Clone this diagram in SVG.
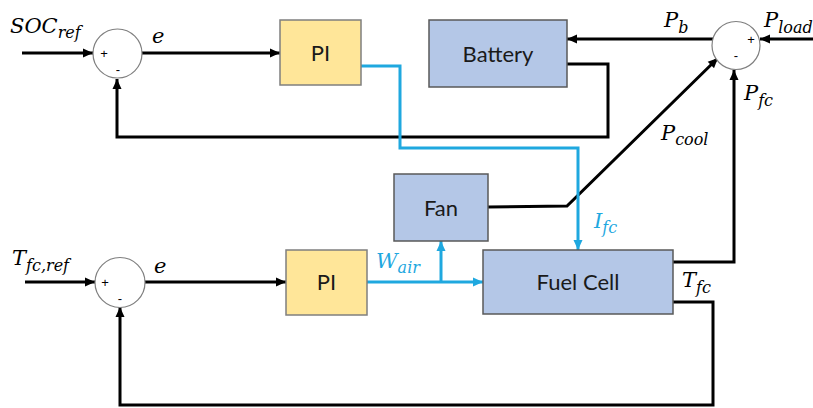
<svg xmlns="http://www.w3.org/2000/svg" width="813" height="408" viewBox="0 0 813 408">
<defs>
<marker id="ab" markerUnits="userSpaceOnUse" markerWidth="11" markerHeight="10" refX="10" refY="5" orient="auto"><path d="M0,0.5 L10,5 L0,9.5 z" fill="#000"/></marker>
<marker id="aq" markerUnits="userSpaceOnUse" markerWidth="11" markerHeight="10" refX="10" refY="5" orient="auto"><path d="M0,0.5 L10,5 L0,9.5 z" fill="#1FA8DF"/></marker>
<style>
.blk{fill:none;stroke:#000;stroke-width:3;stroke-linejoin:miter}
.blu{fill:none;stroke:#1FA8DF;stroke-width:3;stroke-linejoin:miter}
.pi{fill:#FFE699;stroke:#7F7F7F;stroke-width:1.5}
.bx{fill:#B4C7E7;stroke:#595959;stroke-width:1.5}
.sum{fill:#fff;stroke:#7F7F7F;stroke-width:1.2}
.lbl{font-family:Lato,"Liberation Sans",sans-serif;font-size:22px;fill:#1a1a1a;text-anchor:middle}
.sg{font-family:"Liberation Sans",sans-serif;font-size:13px;fill:#000;text-anchor:middle}
.m{font-family:"DejaVu Serif",serif;font-style:italic;font-size:21px;fill:#000}
.mb{fill:#1FA8DF}
.s{font-size:16px}
</style>
</defs>
<g id="connectors">
<path class="blk" d="M22,53 L93,53" marker-end="url(#ab)"/>
<path class="blk" d="M142,53 L280,53" marker-end="url(#ab)"/>
<path class="blk" d="M567,64 L608,64 L608,137 L117,137 L117,79" marker-end="url(#ab)"/>
<path class="blk" d="M813,39 L760,39" marker-end="url(#ab)"/>
<path class="blk" d="M713,39 L567,39" marker-end="url(#ab)"/>
<path class="blk" d="M673,262 L734,262 L734,70" marker-end="url(#ab)"/>
<path class="blk" d="M488,207 L567,206 L718,58" marker-end="url(#ab)"/>
<path class="blk" d="M25,282 L95,282" marker-end="url(#ab)"/>
<path class="blk" d="M145,282 L286,282" marker-end="url(#ab)"/>
<path class="blk" d="M673,302 L713,302 L713,405 L120,405 L120,307" marker-end="url(#ab)"/>
<path class="blu" d="M361,66 L400,66 L400,148 L578,148 L578,250" marker-end="url(#aq)"/>
<path class="blu" d="M367,282 L483,282" marker-end="url(#aq)"/>
<path class="blu" d="M441,282 L441,241" marker-end="url(#aq)"/>
</g>
<g id="sum1"><circle class="sum" cx="117.5" cy="53.5" r="24.5"/><text class="sg" x="104" y="58">+</text><text class="sg" x="118" y="74">-</text></g>
<g id="sum2"><circle class="sum" cx="736" cy="45.5" r="24"/><text class="sg" x="751" y="44">+</text><text class="sg" x="736" y="60">-</text></g>
<g id="sum3"><circle class="sum" cx="120" cy="282.5" r="25"/><text class="sg" x="105" y="287">+</text><text class="sg" x="120" y="303">-</text></g>
<g id="pi1"><rect class="pi" x="280" y="20" width="81" height="65"/><text class="lbl" x="320.5" y="61">PI</text></g>
<g id="battery"><rect class="bx" x="429" y="20" width="138" height="67"/><text class="lbl" x="498" y="62">Battery</text></g>
<g id="fan"><rect class="bx" x="394" y="174" width="94" height="67"/><text class="lbl" x="441" y="216">Fan</text></g>
<g id="pi2"><rect class="pi" x="286" y="250" width="81" height="65"/><text class="lbl" x="326.5" y="290">PI</text></g>
<g id="fuelcell"><rect class="bx" x="483" y="250" width="190" height="64"/><text class="lbl" x="578" y="290">Fuel Cell</text></g>
<g id="labels">
<text class="m" x="10" y="33">SOC<tspan class="s" dy="5">ref</tspan></text>
<text class="m" x="152" y="43">e</text>
<text class="m" x="154" y="273">e</text>
<text class="m" x="12" y="265">T<tspan class="s" dy="6">fc,ref</tspan></text>
<text class="m" x="664" y="27">P<tspan class="s" dy="6">b</tspan></text>
<text class="m" x="764" y="27">P<tspan class="s" dy="6">load</tspan></text>
<text class="m" x="744" y="100">P<tspan class="s" dy="6">fc</tspan></text>
<text class="m" x="661" y="140">P<tspan class="s" dy="5">cool</tspan></text>
<text class="m mb" x="376" y="268">W<tspan class="s" dy="5">air</tspan></text>
<text class="m mb" x="594" y="228">I<tspan class="s" dy="5">fc</tspan></text>
<text class="m" x="682" y="287">T<tspan class="s" dy="6">fc</tspan></text>
</g>
</svg>
